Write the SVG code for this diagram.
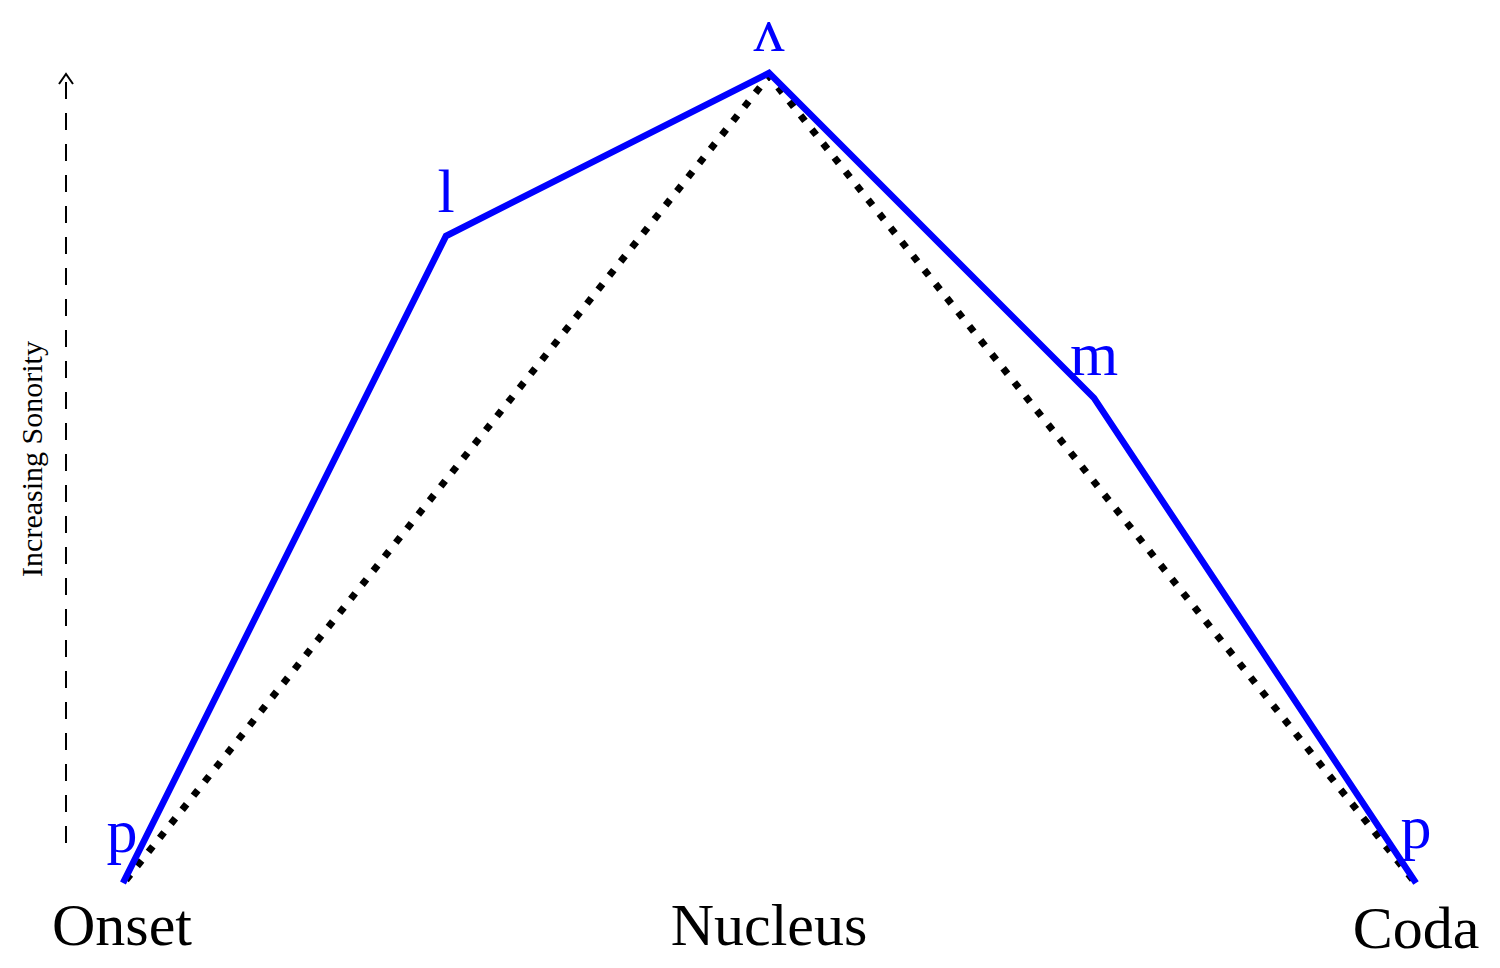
<svg xmlns="http://www.w3.org/2000/svg" width="1500" height="968" viewBox="0 0 1500 968">
<style>
.lbl{font-family:"Liberation Serif","DejaVu Serif",serif;font-size:60px;fill:#000;text-anchor:middle}
.ph{font-family:"Liberation Serif","DejaVu Serif",serif;font-size:62px;fill:#0000ff;text-anchor:middle}
.ax{font-family:"Liberation Serif","DejaVu Serif",serif;font-size:30px;fill:#000;text-anchor:middle}
</style>
<rect width="1500" height="968" fill="#fff"/>
<g id="connectors">
<g id="axis">
<line x1="66" y1="843" x2="66" y2="76" stroke="#000" stroke-width="2" stroke-dasharray="17 14"/>
<polyline points="59,84 66,74 73,84" fill="none" stroke="#000" stroke-width="2"/>
</g>
<polyline id="ideal" points="126,880 769,76 1413,880" fill="none" stroke="#000" stroke-width="7" stroke-dasharray="7 11"/>
<polyline id="actual" points="123,883 446,236 769,73 1094,398 1416,883" fill="none" stroke="#0000ff" stroke-width="6.5"/>
</g>
<g id="node-p1"><text class="ph" x="122" y="852">p</text></g>
<g id="node-l"><text class="ph" x="446" y="212">l</text></g>
<g id="node-wedge"><text class="ph" x="769" y="51">ʌ</text></g>
<g id="node-m"><text class="ph" x="1094" y="375">m</text></g>
<g id="node-p2"><text class="ph" x="1416" y="848">p</text></g>
<g id="node-onset"><text class="lbl" x="122" y="945">Onset</text></g>
<g id="node-nucleus"><text class="lbl" x="769" y="945">Nucleus</text></g>
<g id="node-coda"><text class="lbl" x="1416" y="948">Coda</text></g>
<g id="axis-label"><text class="ax" transform="translate(42,459) rotate(-90)">Increasing Sonority</text></g>
</svg>
